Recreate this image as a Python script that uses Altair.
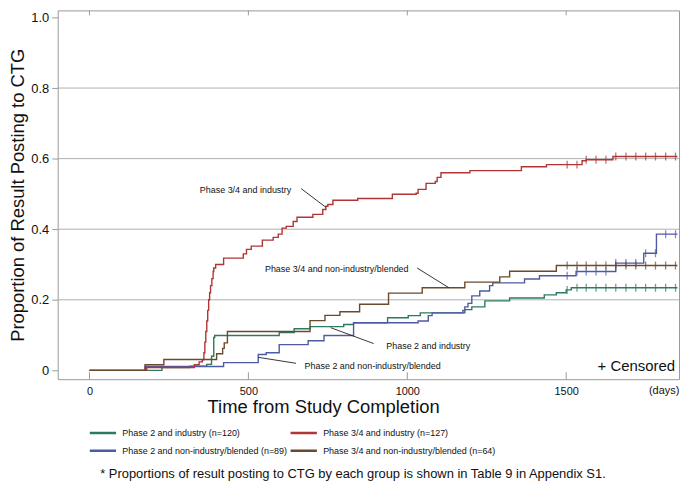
import altair as alt
import pandas as pd

# ---------------- data ----------------
series_names = [
    "Phase 2 and industry (n=120)",
    "Phase 2 and non-industry/blended (n=89)",
    "Phase 3/4 and industry (n=127)",
    "Phase 3/4 and non-industry/blended (n=64)",
]
series_colors = ["#2e7a5e", "#4f5aa6", "#b03535", "#6b4a2c"]

green_days = [0, 228, 316, 369, 384, 391, 394, 597, 644, 694, 800, 831, 938, 1003, 1041,
              1181, 1203, 1244, 1322, 1431, 1469, 1500, 1516, 1850]
green_prop = [0, 0.008, 0.012, 0.017, 0.04, 0.093, 0.099, 0.107, 0.118, 0.124, 0.13, 0.135,
              0.149, 0.155, 0.163, 0.172, 0.18, 0.197, 0.205, 0.214, 0.22, 0.228, 0.234, 0.234]

blue_days = [0, 175, 422, 531, 556, 597, 688, 738, 831, 1034, 1066, 1078, 1175, 1181, 1191,
             1203, 1228, 1259, 1269, 1369, 1416, 1531, 1656, 1744, 1784, 1850]
blue_prop = [0, 0.011, 0.022, 0.045, 0.05, 0.073, 0.084, 0.099, 0.135, 0.14, 0.155, 0.163,
             0.17, 0.18, 0.19, 0.211, 0.225, 0.24, 0.248, 0.259, 0.268, 0.28, 0.304, 0.332,
             0.386, 0.386]

red_days = [0, 180, 330, 345, 355, 360, 363, 366, 369, 372, 375, 378, 381, 385, 389, 391,
            397, 422, 484, 494, 509, 544, 578, 594, 606, 619, 641, 653, 703, 734, 744, 750,
            766, 844, 953, 1028, 1034, 1059, 1088, 1094, 1106, 1197, 1359, 1438, 1550, 1563,
            1647, 1850]
red_prop = [0, 0.008, 0.016, 0.024, 0.03, 0.05, 0.08, 0.11, 0.14, 0.17, 0.20, 0.22, 0.24,
            0.26, 0.28, 0.29, 0.30, 0.318, 0.33, 0.343, 0.352, 0.369, 0.377, 0.386, 0.403,
            0.408, 0.422, 0.434, 0.442, 0.456, 0.465, 0.47, 0.482, 0.487, 0.499, 0.502, 0.513,
            0.53, 0.535, 0.547, 0.56, 0.566, 0.577, 0.583, 0.594, 0.597, 0.606, 0.606]

brown_days = [0, 175, 234, 400, 419, 424, 434, 694, 741, 788, 850, 941, 1047, 1181, 1291,
              1322, 1469, 1850]
brown_prop = [0, 0.016, 0.031, 0.047, 0.0625, 0.078, 0.11, 0.141, 0.156, 0.166, 0.1875,
              0.219, 0.234, 0.25, 0.265, 0.281, 0.297, 0.297]

censor_days = [1503, 1534, 1563, 1594, 1625, 1656, 1688, 1719, 1750, 1781, 1813, 1844]

grid_values = [0.2, 0.4, 0.6, 0.8]
x_tick_values = [0, 500, 1000, 1500]
y_tick_values = [0, 0.2, 0.4, 0.6, 0.8, 1.0]

ann_text = ["Phase 3/4 and industry", "Phase 3/4 and non-industry/blended",
            "Phase 2 and industry", "Phase 2 and non-industry/blended"]
ann_x = [491, 778, 1066, 891]
ann_y = [0.51, 0.287, 0.07, 0.011]
lead_x = [666, 1031, 759, 531]
lead_y = [0.515, 0.29, 0.121, 0.037]
lead_x2 = [744, 1131, 894, 650]
lead_y2 = [0.462, 0.234, 0.076, 0.02]

# ---------------- tables ----------------
all_series = [(green_days, green_prop), (blue_days, blue_prop),
              (red_days, red_prop), (brown_days, brown_prop)]
rows, cens = [], []
for name, (d, p) in zip(series_names, all_series):
    for a, b in zip(d, p):
        rows.append({"series": name, "days": a, "prop": b})
    for c in censor_days:
        val = 0
        for a, b in zip(d, p):
            if a <= c:
                val = b
        cens.append({"series": name, "days": c, "prop": val})
df = pd.DataFrame(rows)
cdf = pd.DataFrame(cens)
grid_df = pd.DataFrame({"y": grid_values})
xt_df = pd.DataFrame({"x": x_tick_values})
ann_df = pd.DataFrame({"text": ann_text, "x": ann_x, "y": ann_y})
lead_df = pd.DataFrame({"x": lead_x, "y": lead_y, "x2": lead_x2, "y2": lead_y2})

col1 = series_names[:2]
col2 = series_names[2:]
dfA = df[df["series"].isin(col1)]
dfB = df[df["series"].isin(col2)]

W, H = 625, 371
FONT = "Liberation Sans"
xscale = alt.Scale(domain=[-100, 1855], nice=False, zero=False)
yscale = alt.Scale(domain=[-0.025, 1.02], nice=False, zero=False)

xaxis = alt.Axis(values=x_tick_values, format="d", title="Time from Study Completion",
                 ticks=False, domain=False, grid=False, labelFontSize=11,
                 labelPadding=6, titleFontSize=18.5, titlePadding=2,
                 titleX=267, titleFontWeight="normal")
yaxis = alt.Axis(values=y_tick_values, title="Proportion of Result Posting to CTG",
                 labelExpr="datum.value == 0 ? '0' : format(datum.value, '.1f')",
                 domain=False, grid=False, tickSize=6, tickColor="#999",
                 labelFontSize=13, labelPadding=3, titleFontSize=18.5,
                 titlePadding=3, titleFontWeight="normal")


def legend_at(lx):
    return alt.Legend(
        orient="none", legendX=lx, legendY=418, symbolType="stroke",
        symbolSize=700, symbolStrokeWidth=2.5, labelFontSize=9, labelFont=FONT,
        labelColor="#111", labelOffset=5, rowPadding=4, clipHeight=14, labelLimit=400,
    )


def line_layer(data, names, lx):
    cols = [series_colors[series_names.index(n)] for n in names]
    return alt.Chart(data).mark_line(interpolate="step-after", strokeWidth=1.4).encode(
        x=alt.X("days:Q", scale=xscale, axis=xaxis),
        y=alt.Y("prop:Q", scale=yscale, axis=yaxis),
        color=alt.Color("series:N", scale=alt.Scale(domain=names, range=cols),
                        sort=names, title=None, legend=legend_at(lx)),
        order=alt.Order("days:Q"),
    )


grid = alt.Chart(grid_df).mark_rule(color="#b0b0b0", strokeWidth=1).encode(
    y=alt.Y("y:Q", scale=yscale)
)

linesA = line_layer(dfA, col1, 31)
linesB = line_layer(dfB, col2, 233)

ticks = alt.Chart(cdf).mark_tick(orient="vertical", size=8, thickness=1.3).encode(
    x=alt.X("days:Q", scale=xscale),
    y=alt.Y("prop:Q", scale=yscale),
    color=alt.Color("series:N", scale=alt.Scale(domain=series_names, range=series_colors),
                    legend=None),
)

bot_ticks = alt.Chart(xt_df).mark_rule(color="#999").encode(
    x=alt.X("x:Q", scale=xscale), y=alt.value(H - 7), y2=alt.value(H)
)
top_ticks = alt.Chart(xt_df).mark_rule(color="#999").encode(
    x=alt.X("x:Q", scale=xscale), y=alt.value(0), y2=alt.value(5)
)

leads = alt.Chart(lead_df).mark_rule(color="#222", strokeWidth=0.9).encode(
    x=alt.X("x:Q", scale=xscale), y=alt.Y("y:Q", scale=yscale),
    x2="x2:Q", y2="y2:Q",
)
anns = alt.Chart(ann_df).mark_text(fontSize=9, font=FONT, color="#111", align="center",
                                   baseline="middle").encode(
    x=alt.X("x:Q", scale=xscale), y=alt.Y("y:Q", scale=yscale), text="text:N"
)

censored = alt.Chart(pd.DataFrame({"t": ["+ Censored"]})).mark_text(
    fontSize=15, font=FONT, color="#111", align="right", baseline="middle"
).encode(x=alt.value(W - 4), y=alt.value(H - 13), text="t:N")

days_lbl = alt.Chart(pd.DataFrame({"t": ["(days)"]})).mark_text(
    fontSize=11, font=FONT, color="#111", align="center", baseline="top"
).encode(x=alt.value(610), y=alt.value(H + 6), text="t:N")

foot = alt.Chart(pd.DataFrame({"t": ["* Proportions of result posting to CTG by each group is shown in Table 9 in Appendix S1."]})).mark_text(
    fontSize=13, font=FONT, color="#111", align="center", baseline="middle"
).encode(x=alt.value(297), y=alt.value(466), text="t:N")

chart = alt.layer(grid, bot_ticks, top_ticks, linesA, linesB, ticks, leads, anns,
                  censored, days_lbl, foot).resolve_scale(color="independent").properties(
    width=W, height=H, padding=0,
).configure_view(stroke="#999", strokeWidth=1).configure_axis(
    labelFont=FONT, titleFont=FONT, labelColor="#111", titleColor="#111"
)

chart.save("out.html", embed_options={"renderer": "svg", "actions": False})
